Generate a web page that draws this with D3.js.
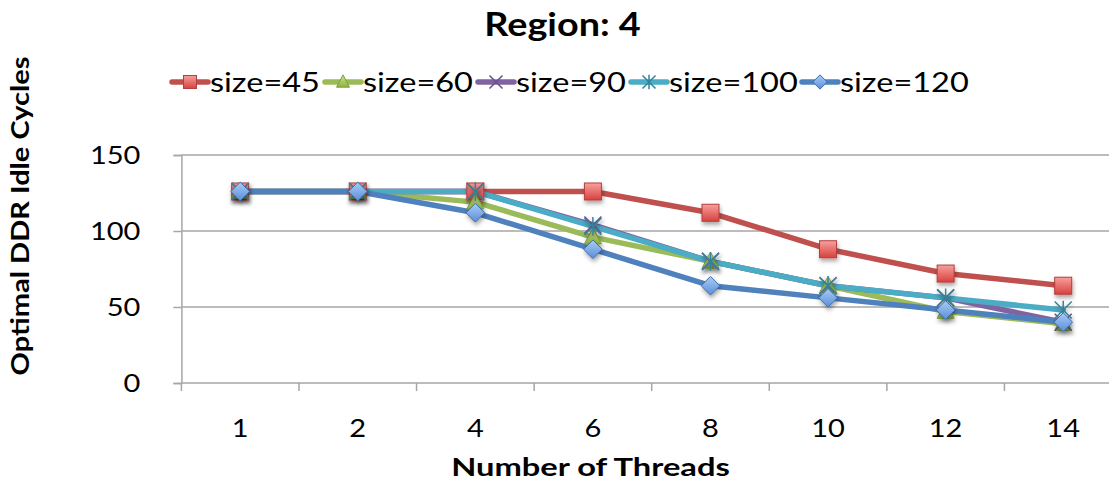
<!DOCTYPE html>
<html>
<head>
<meta charset="utf-8">
<script src="https://cdn.jsdelivr.net/npm/d3@7"></script>
<style>
  html, body { margin: 0; padding: 0; background: #fff; }
  svg { display: block; font-family: Lato, "Open Sans", sans-serif; }
</style>
</head>
<body>
<svg id="chart" width="1109" height="484"></svg>
<script>
// Thread counts on the x axis
const threads = ["1", "2", "4", "6", "8", "10", "12", "14"];

// Optimal DDR idle cycles for each problem size
const size45  = [126, 126, 126, 126, 112, 88, 72, 64];
const size60  = [126, 126, 119, 96, 80, 64, 47, 39];
const size90  = [126, 126, 126, 104, 80, 64, 56, 40];
const size100 = [126, 126, 126, 103, 80, 64, 56, 48];
const size120 = [126, 126, 112, 88, 64, 56, 48, 40];

const seriesNames = ["size=45", "size=60", "size=90", "size=100", "size=120"];
const yTicks = [0, 50, 100, 150];

const series = [
  { name: seriesNames[0], values: size45,  color: "#C0504D", light: "#F7A09E", dark: "#D8413D", marker: "square" },
  { name: seriesNames[1], values: size60,  color: "#9BBB59", light: "#CDE692", dark: "#8DB13F", marker: "triangle" },
  { name: seriesNames[2], values: size90,  color: "#8064A2", light: "#8064A2", dark: "#8064A2", marker: "x" },
  { name: seriesNames[3], values: size100, color: "#4BACC6", light: "#4BACC6", dark: "#4BACC6", marker: "star" },
  { name: seriesNames[4], values: size120, color: "#4F81BD", light: "#A9CCF7", dark: "#5A8ED8", marker: "diamond" }
];

const svg = d3.select("#chart");
const margin = { left: 181.4, right: 1122, top: 155, bottom: 383 };

const x = d3.scaleBand().domain(threads).range([margin.left, margin.right]);
const y = d3.scaleLinear().domain([0, 150]).range([margin.bottom, margin.top]);

// Widen text glyphs horizontally by a factor
function widen(sel, factor) {
  sel.each(function () {
    const w = this.getComputedTextLength();
    d3.select(this).attr("textLength", w * factor).attr("lengthAdjust", "spacingAndGlyphs");
  });
}

// Gradients and shadow for the markers
const defs = svg.append("defs");
series.forEach((s, i) => {
  const g = defs.append("linearGradient").attr("id", "grad" + i)
    .attr("x1", 0).attr("y1", 0).attr("x2", 0).attr("y2", 1);
  g.append("stop").attr("offset", "0%").attr("stop-color", s.light);
  g.append("stop").attr("offset", "100%").attr("stop-color", s.dark);
});
const shadow = defs.append("filter").attr("id", "shadow")
  .attr("x", "-50%").attr("y", "-50%").attr("width", "200%").attr("height", "200%");
shadow.append("feDropShadow").attr("dx", 1).attr("dy", 3).attr("stdDeviation", 2)
  .attr("flood-color", "#000").attr("flood-opacity", 0.35);

// Horizontal gridlines
svg.append("g").selectAll("line").data(yTicks.filter(d => d > 0)).join("line")
  .attr("x1", margin.left).attr("x2", margin.right)
  .attr("y1", d => y(d)).attr("y2", d => y(d))
  .attr("stroke", "#A6A6A6").attr("stroke-width", 1.5);

// Y axis
const yAxis = svg.append("g").attr("transform", `translate(${margin.left},0)`)
  .call(d3.axisLeft(y).tickValues(yTicks).tickSize(8).tickPadding(33));
yAxis.select(".domain").attr("stroke", "#A6A6A6").attr("stroke-width", 1.5);
yAxis.selectAll(".tick line").attr("stroke", "#A6A6A6").attr("stroke-width", 1.5);
yAxis.selectAll(".tick text").attr("font-family", "Lato, sans-serif")
  .attr("font-size", 25).attr("fill", "#000").call(widen, 1.16);

// X axis: ticks sit between categories
const xAxisG = svg.append("g").attr("transform", `translate(0,${margin.bottom})`);
xAxisG.append("line").attr("x1", margin.left).attr("x2", margin.right)
  .attr("stroke", "#A6A6A6").attr("stroke-width", 1.5);
const bounds = threads.map(t => x(t)).concat([x(threads[threads.length - 1]) + x.bandwidth()]);
xAxisG.selectAll("line.tk").data(bounds).join("line").attr("class", "tk")
  .attr("x1", d => d).attr("x2", d => d).attr("y1", 0).attr("y2", 8)
  .attr("stroke", "#A6A6A6").attr("stroke-width", 1.5);
xAxisG.selectAll("text").data(threads).join("text")
  .attr("x", d => x(d) + x.bandwidth() / 2).attr("y", 54)
  .attr("text-anchor", "middle").attr("font-size", 25).attr("fill", "#000")
  .text(d => d).call(widen, 1.16);

// Lines
const line = d3.line()
  .x((d, i) => x(threads[i]) + x.bandwidth() / 2)
  .y(d => y(d));

const plot = svg.append("g");
series.forEach(s => {
  plot.append("path").datum(s.values)
    .attr("d", line).attr("fill", "none")
    .attr("stroke", s.color).attr("stroke-width", 5.5)
    .attr("stroke-linejoin", "round").attr("stroke-linecap", "round");
});

// Marker drawing
function drawMarker(g, s, i, cx, cy, r) {
  const fill = `url(#grad${i})`;
  if (s.marker === "square") {
    g.append("rect").attr("x", cx - r).attr("y", cy - r).attr("width", 2 * r).attr("height", 2 * r)
      .attr("fill", fill).attr("stroke", "#B33E3B").attr("stroke-width", 1);
  } else if (s.marker === "triangle") {
    g.append("path").attr("d", `M${cx},${cy - r * 1.1}L${cx + r},${cy + r * 0.8}L${cx - r},${cy + r * 0.8}Z`)
      .attr("fill", fill).attr("stroke", "#7E9E3E").attr("stroke-width", 1);
  } else if (s.marker === "diamond") {
    g.append("path").attr("d", `M${cx},${cy - r * 1.1}L${cx + r * 1.1},${cy}L${cx},${cy + r * 1.1}L${cx - r * 1.1},${cy}Z`)
      .attr("fill", fill).attr("stroke", "#3F6EA8").attr("stroke-width", 1);
  } else if (s.marker === "x") {
    g.append("path").attr("d", `M${cx - r},${cy - r}L${cx + r},${cy + r}M${cx + r},${cy - r}L${cx - r},${cy + r}`)
      .attr("stroke", "#6B4F8E").attr("stroke-width", 1.5).attr("fill", "none");
  } else if (s.marker === "star") {
    g.append("path").attr("d",
      `M${cx - r},${cy - r}L${cx + r},${cy + r}M${cx + r},${cy - r}L${cx - r},${cy + r}M${cx},${cy - r * 1.1}L${cx},${cy + r * 1.1}`)
      .attr("stroke", "#31849B").attr("stroke-width", 1.5).attr("fill", "none");
  }
}

series.forEach((s, i) => {
  const mg = plot.append("g").attr("filter", "url(#shadow)");
  s.values.forEach((v, j) => {
    drawMarker(mg, s, i, x(threads[j]) + x.bandwidth() / 2, y(v), 8.5);
  });
});

// Title
svg.append("text").attr("x", 562.5).attr("y", 36).attr("text-anchor", "middle")
  .attr("font-size", 32).attr("font-weight", "bold").attr("fill", "#000")
  .text("Region: 4").call(widen, 1.18);

// Axis titles
svg.append("text").attr("x", 590.5).attr("y", 476).attr("text-anchor", "middle")
  .attr("font-size", 25.5).attr("font-weight", "bold").attr("fill", "#000")
  .text("Number of Threads").call(widen, 1.28);
svg.append("text").attr("transform", "translate(29,216) rotate(-90)")
  .attr("text-anchor", "middle")
  .attr("font-size", 25.5).attr("font-weight", "bold").attr("fill", "#000")
  .attr("textLength", 319).attr("lengthAdjust", "spacingAndGlyphs")
  .text("Optimal DDR Idle Cycles");

// Legend
const legendX = [172, 325, 478, 631, 802];
const legend = svg.append("g");
series.forEach((s, i) => {
  const lx = legendX[i], ly = 82;
  legend.append("line").attr("x1", lx).attr("x2", lx + 36).attr("y1", ly).attr("y2", ly)
    .attr("stroke", s.color).attr("stroke-width", 5.5).attr("stroke-linecap", "round");
  drawMarker(legend, s, i, lx + 18, ly, 6.5);
  legend.append("text").attr("x", lx + 38).attr("y", ly + 9.5)
    .attr("font-size", 26).attr("fill", "#000").text(s.name).call(widen, 1.25);
});
</script>
</body>
</html>
